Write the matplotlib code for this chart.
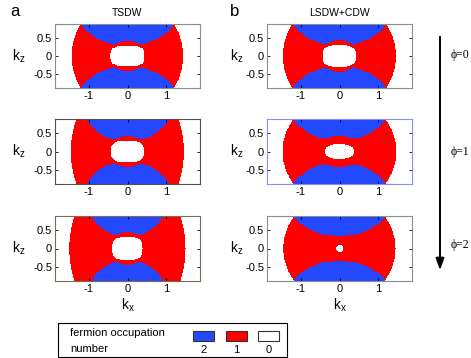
import numpy as np
import matplotlib
matplotlib.use("Agg")
import matplotlib.pyplot as plt
from matplotlib.colors import ListedColormap
from matplotlib.patches import Rectangle, FancyArrowPatch

plt.rcParams["font.family"] = ["Liberation Sans", "DejaVu Sans"]
plt.rcParams["mathtext.default"] = "regular"

# panel order: TSDW phi=0, LSDW+CDW phi=0, TSDW phi=1, LSDW+CDW phi=1, TSDW phi=2, LSDW+CDW phi=2
outer_a = [1.43, 1.45, 1.45, 1.46, 1.49, 1.44]      # outer edge half-width at kz=0
outer_top = [1.20, 1.21, 1.31, 1.18, 1.36, 1.16]    # outer edge half-width at kz=0.9
blue_gap = [0.28, 0.28, 0.27, 0.30, 0.33, 0.34]     # kz of blue lens edge at kx=0
blue_top = [1.22, 1.22, 1.06, 1.22, 0.92, 1.22]     # blue lens half-width at kz=0.9
bump_x = [0.50, 0.50, 0.50, 0.56, 0.52, 0.0]
bump_z = [0.42, 0.44, 0.44, 0.45, 0.46, 0.0]
hole_x = [0.44, 0.43, 0.43, 0.37, 0.39, 0.09]
hole_z = [0.30, 0.31, 0.30, 0.21, 0.31, 0.095]
hole_p = [3.0, 3.0, 3.0, 2.6, 3.5, 2.0]
spine_colors = ["#8c8c8c", "#8c8c8c", "#505050", "#8a8aff", "#7a6a5a", "#8c8c8c"]

titles = ["TSDW", "LSDW+CDW"]
letters = ["a", "b"]
phi_labels = ["\u03d5=0", "\u03d5=1", "\u03d5=2"]
occ_labels = ["2", "1", "0"]
occ_colors = ["#2448ff", "#ff0000", "#ffffff"]

KX = np.arange(-1.86, 1.861, 0.025)
KZ = np.arange(-0.9, 0.901, 0.025)


def occupation(i):
    x, z = np.meshgrid(KX, KZ)
    a, t = outer_a[i], outer_top[i]
    b2 = 0.81 / (1 - (t / a) ** 2)
    occ = np.where(x ** 2 / a ** 2 + z ** 2 / b2 < 1, 1, 0)
    g, w = blue_gap[i], blue_top[i]
    r = (w ** 2 + (0.9 - g) ** 2) / (2 * (0.9 - g))
    c = r + g
    blue = (x ** 2 + (np.abs(z) - c) ** 2 < r ** 2) & (occ == 1)
    if bump_x[i] > 0:
        blue &= (x / bump_x[i]) ** 2 + (z / bump_z[i]) ** 2 > 1
    occ = np.where(blue, 2, occ)
    p = hole_p[i]
    hole = np.abs(x / hole_x[i]) ** p + np.abs(z / hole_z[i]) ** p < 1
    occ = np.where(hole, 0, occ)
    return occ


cmap = ListedColormap([occ_colors[2], occ_colors[1], occ_colors[0]])

W, H = 471, 358
fig = plt.figure(figsize=(W / 100, H / 100), dpi=100)

col_x = [55, 267]
row_y = [(24, 88), (119, 184), (216, 281)]
axw = 145

for i in range(6):
    row, col = divmod(i, 2)
    y0, y1 = row_y[row]
    ax = fig.add_axes([col_x[col] / W, 1 - y1 / H, axw / W, (y1 - y0) / H])
    ax.pcolormesh(KX, KZ, occupation(i), cmap=cmap, vmin=-0.5, vmax=2.5,
                  shading="nearest")
    ax.set_xlim(-1.86, 1.86)
    ax.set_ylim(-0.9, 0.9)
    ax.set_xticks([-1, 0, 1])
    ax.set_xticklabels(["-1", "0", "1"])
    ax.set_yticks([-0.5, 0, 0.5])
    ax.set_yticklabels(["-0.5", "0", "0.5"])
    ax.tick_params(direction="in", length=2.5, width=0.6, labelsize=8,
                   top=True, right=True, pad=2, colors="black")
    for s in ax.spines.values():
        s.set_color(spine_colors[i])
        s.set_linewidth(0.8)
    ax.set_ylabel("k$_z$", rotation=0, fontsize=10, va="center", ha="center")
    ax.yaxis.set_label_coords(-0.25 if col == 0 else -0.21, 0.5)
    if row == 0:
        ax.set_title(titles[col], fontsize=7.5, pad=6)
    if row == 2:
        ax.set_xlabel("k$_x$", fontsize=10, labelpad=2)

fig.text(10 / W, 1 - 11 / H, letters[0], fontsize=12, va="center", ha="left")
fig.text(230 / W, 1 - 11 / H, letters[1], fontsize=12, va="center", ha="left")

# phi arrow
fig.add_artist(FancyArrowPatch(
    (440 / W, 1 - 34 / H), (440 / W, 1 - 273 / H), transform=fig.transFigure,
    arrowstyle="-|>,head_length=0.5,head_width=0.18", mutation_scale=14,
    color="black", linewidth=1.4))
for k, yy in enumerate([55, 152, 245]):
    fig.text(451 / W, 1 - yy / H, phi_labels[k], fontsize=8.5, va="center",
             ha="left", family=["Liberation Serif", "DejaVu Serif"])

# occupation legend
fig.add_artist(Rectangle((58 / W, 1 - 357 / H), 229 / W, 34 / H,
                         transform=fig.transFigure, facecolor="white",
                         edgecolor="black", linewidth=0.8))
fig.text(70 / W, 1 - 333 / H, "fermion occupation", fontsize=8, va="center")
fig.text(70 / W, 1 - 349 / H, "number", fontsize=8, va="center")
for k, x0 in enumerate([193, 226, 258]):
    fig.add_artist(Rectangle((x0 / W, 1 - 341 / H), 21 / W, 10 / H,
                             transform=fig.transFigure, facecolor=occ_colors[k],
                             edgecolor="#333333", linewidth=0.8))
    fig.text((x0 + 10.5) / W, 1 - 350 / H, occ_labels[k], fontsize=8,
             ha="center", va="center")

fig.savefig("out.png", dpi=100)
